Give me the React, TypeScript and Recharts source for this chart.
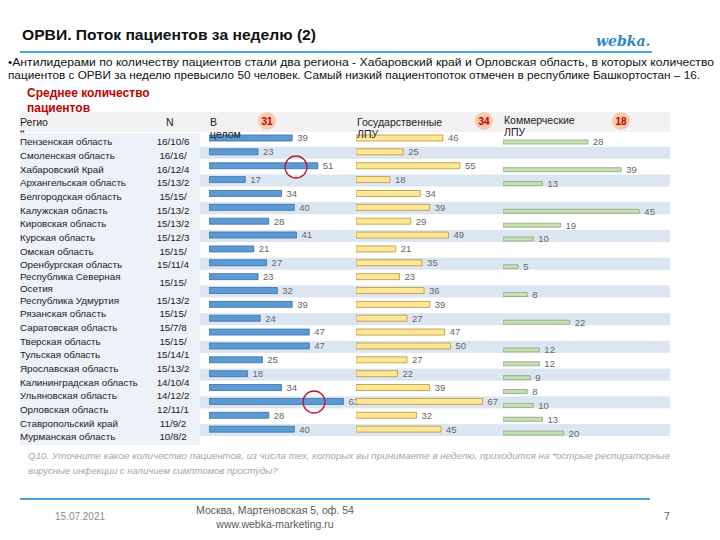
import React from "react";
import { BarChart, Bar, XAxis, YAxis, LabelList } from "recharts";

const regions = [
  "Пензенская область",
  "Смоленская область",
  "Хабаровский Край",
  "Архангельская область",
  "Белгородская область",
  "Калужская область",
  "Кировская область",
  "Курская область",
  "Омская область",
  "Оренбургская область",
  "Республика Северная\nОсетия",
  "Республика Удмуртия",
  "Рязанская область",
  "Саратовская область",
  "Тверская область",
  "Тульская область",
  "Ярославская область",
  "Калининградская область",
  "Ульяновская область",
  "Орловская область",
  "Ставропольский край",
  "Мурманская область"
];

const counts = [
  "16/10/6", "16/16/", "16/12/4", "15/13/2", "15/15/", "15/13/2", "15/13/2", "15/12/3",
  "15/15/", "15/11/4", "15/15/", "15/13/2", "15/15/", "15/7/8", "15/15/", "15/14/1",
  "15/13/2", "14/10/4", "14/12/2", "12/11/1", "11/9/2", "10/8/2"
];

const totalValues = [39, 23, 51, 17, 34, 40, 28, 41, 21, 27, 23, 32, 39, 24, 47, 47, 25, 18, 34, 63, 28, 40];
const stateValues = [46, 25, 55, 18, 34, 39, 29, 49, 21, 35, 23, 36, 39, 27, 47, 50, 27, 22, 39, 67, 32, 45];
const commValues = [28, null, 39, 13, null, 45, 19, 10, null, 5, null, 8, null, 22, null, 12, 12, 9, 8, 10, 13, 20];

const averages = { total: 31, state: 34, comm: 18 };

const rowData = regions.map((region, i) => ({
  region,
  total: totalValues[i],
  state: stateValues[i],
  comm: commValues[i]
}));

const FONT = "'Liberation Sans', Arial, sans-serif";
const CHART_TOP = 131;
const CHART_H = 305;
const BAND = CHART_H / regions.length;

function Column(props: any) {
  const { left, top, width, dataKey, max, fill, stroke, barSize } = props;
  return (
    <div style={{ position: "absolute", left, top }}>
      <BarChart
        width={width}
        height={CHART_H}
        data={rowData}
        layout="vertical"
        margin={{ top: 0, right: 0, bottom: 0, left: 0 }}
        barCategoryGap={0}
      >
        <XAxis type="number" hide domain={[0, max]} />
        <YAxis type="category" dataKey="region" hide />
        <Bar
          dataKey={dataKey}
          fill={fill}
          stroke={stroke}
          strokeWidth={0.8}
          barSize={barSize}
          isAnimationActive={false}
        >
          <LabelList
            dataKey={dataKey}
            position="right"
            offset={5}
            fill="#666"
            fontSize={9.5}
            fontFamily={FONT}
          />
        </Bar>
      </BarChart>
    </div>
  );
}

// table rows: one line rows are 13.65px, the two line row is taller
function tableRows() {
  const out: { name: string[]; n: string; y: number; h: number }[] = [];
  let y = 135;
  regions.forEach((r, i) => {
    const name = r.split("\n");
    const h = name.length > 1 ? 22 : 13.65;
    out.push({ name, n: counts[i], y, h });
    y += h;
  });
  return out;
}

export default function App() {
  const rows = tableRows();
  return (
    <div style={{ position: "absolute", left: 0, top: 0, width: 720, height: 540, background: "#fff", overflow: "hidden" }}>
      <svg width={720} height={540} style={{ position: "absolute", left: 0, top: 0 }} fontFamily={FONT}>
        <text x={22} y={40} fontSize={14} fontWeight="bold" fill="#111" textLength={294} lengthAdjust="spacingAndGlyphs">
          ОРВИ. Поток пациентов за неделю (2)
        </text>
        <text x={596} y={46} fontSize={14} fontWeight="bold" fontStyle="italic" fill="#2f86c5" fontFamily="'DejaVu Serif', serif">
          webka.
        </text>
        <line x1={20} y1={52} x2={652} y2={52} stroke="#42a5e0" strokeWidth={2} />

        <text x={8} y={66} fontSize={11} fill="#111" textLength={706} lengthAdjust="spacingAndGlyphs">
          •Антилидерами по количеству пациентов стали два региона  - Хабаровский край и Орловская область, в которых количество
        </text>
        <text x={8} y={79} fontSize={11} fill="#111" textLength={692} lengthAdjust="spacingAndGlyphs">
          пациентов с ОРВИ за неделю превысило 50 человек. Самый низкий пациентопоток отмечен в республике Башкортостан – 16.
        </text>

        <text x={27} y={97} fontSize={12} fontWeight="bold" fill="#c00000">Среднее количество</text>

        <rect x={20} y={112} width={650} height={20} fill="#f2f2f2" />
        <text x={27} y={111.5} fontSize={12} fontWeight="bold" fill="#c00000">пациентов</text>

        <text x={20} y={126} fontSize={10.5} fill="#222">Регио</text>
        <text x={20} y={134} fontSize={8} fill="#222">н</text>
        <text x={166} y={126} fontSize={10.5} fill="#222">N</text>
        <text x={210} y={126} fontSize={10.5} fill="#222">В</text>
        <text x={357} y={126} fontSize={10.5} fill="#222">Государственные</text>
        <text x={504} y={124} fontSize={10.5} fill="#222">Коммерческие</text>

        <rect x={20} y={133} width={180} height={312} fill="#edf1f8" />

        {rows.map((row, i) =>
          i % 2 === 1 ? (
            <rect key={"s" + i} x={200} y={CHART_TOP + (i + 0.5) * BAND - 5} width={470} height={12} fill="#dce6f2" />
          ) : null
        )}

        {rows.map((row, i) => (
          <g key={"r" + i} fontSize={9.8} fill="#222">
            {row.name.length > 1 ? (
              <>
                <text x={20} y={row.y + 8.5}>{row.name[0]}</text>
                <text x={20} y={row.y + 20}>{row.name[1]}</text>
              </>
            ) : (
              <text x={20} y={row.y + row.h / 2 + 3.5}>{row.name[0]}</text>
            )}
            <text x={173} y={row.y + row.h / 2 + 3.5} textAnchor="middle">{row.n}</text>
          </g>
        ))}

        {[
          { x: 267, v: averages.total },
          { x: 484, v: averages.state },
          { x: 621, v: averages.comm }
        ].map((b) => (
          <g key={b.x}>
            <circle cx={b.x} cy={121} r={9} fill="#f8cbad" />
            <text x={b.x} y={124.5} textAnchor="middle" fontSize={10} fontWeight="bold" fill="#c00000">{b.v}</text>
          </g>
        ))}

        <text x={28} y={459} fontSize={9.5} fontStyle="italic" fill="#a6a6a6" textLength={642} lengthAdjust="spacingAndGlyphs">
          Q10. Уточните какое количество пациентов, из числа тех, которых вы принимаете в неделю, приходится на *острые респираторные
        </text>
        <text x={28} y={474} fontSize={9.5} fontStyle="italic" fill="#a6a6a6">
          вирусные инфекции с наличием симптомов простуды?
        </text>

        <line x1={20} y1={499} x2={650} y2={499} stroke="#42a5e0" strokeWidth={2} />
        <text x={55} y={520} fontSize={10} fill="#8c8c8c">15.07.2021</text>
        <text x={275} y={514} fontSize={10.5} fill="#595959" textAnchor="middle">Москва, Мартеновская 5, оф. 54</text>
        <text x={275} y={528} fontSize={10.5} fill="#595959" textAnchor="middle">www.webka-marketing.ru</text>
        <text x={664} y={520} fontSize={10.5} fill="#595959">7</text>
      </svg>

      <Column left={209} top={CHART_TOP} width={160} dataKey="total" max={75} fill="#5b9bd5" stroke="#3f6f9f" barSize={6} />
      <Column left={356} top={CHART_TOP} width={170} dataKey="state" max={90} fill="#ffe699" stroke="#b8952e" barSize={6} />
      <Column left={503} top={CHART_TOP + 3.5} width={200} dataKey="comm" max={66} fill="#c5e0b4" stroke="#8aa67a" barSize={4} />

      <svg width={720} height={540} style={{ position: "absolute", left: 0, top: 0, pointerEvents: "none" }} fontFamily={FONT}>
        <text x={210} y={138} fontSize={10.5} fill="#222">целом</text>
        <text x={357} y={138} fontSize={10.5} fill="#222">ЛПУ</text>
        <text x={504} y={136} fontSize={10.5} fill="#222">ЛПУ</text>
        <circle cx={296} cy={167} r={11} fill="none" stroke="#c0182a" strokeWidth={1.3} />
        <circle cx={314} cy={402} r={11} fill="none" stroke="#c0182a" strokeWidth={1.3} />
      </svg>
    </div>
  );
}
